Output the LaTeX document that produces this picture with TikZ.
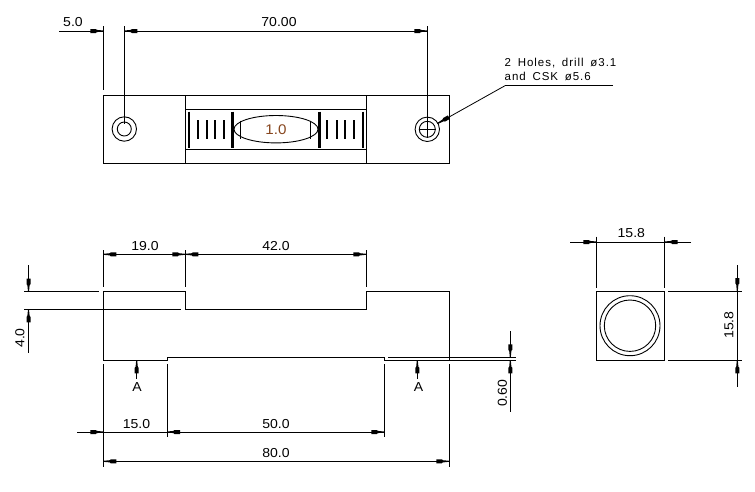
\documentclass[tikz,border=0pt]{standalone}
\usepackage{fontspec}
\setmainfont[FakeStretch=1.08]{Liberation Sans}
\newfontfamily\widefont[LetterSpace=8.5,WordSpace=1.6]{Liberation Sans}
\pgfarrowsdeclare{cadtip}{cadtip}{\pgfarrowsleftextend{-13pt}\pgfarrowsrightextend{0pt}}{%
  \pgfpathmoveto{\pgfpoint{0pt}{-0.5pt}}
  \pgfpathlineto{\pgfpoint{-6.5pt}{-1.1pt}}
  \pgfpathlineto{\pgfpoint{-7.5pt}{-2pt}}
  \pgfpathlineto{\pgfpoint{-13pt}{-2pt}}
  \pgfpathlineto{\pgfpoint{-13pt}{2pt}}
  \pgfpathlineto{\pgfpoint{-7.5pt}{2pt}}
  \pgfpathlineto{\pgfpoint{-6.5pt}{1.1pt}}
  \pgfpathlineto{\pgfpoint{0pt}{0.5pt}}
  \pgfpathclose\pgfusepathqfill}
\tikzset{
  part/.style={line width=1pt,line cap=rect,line join=miter},
  thin part/.style={line width=0.9pt},
  dimline/.style={line width=1pt},
  dimtext/.style={font=\fontsize{13}{15}\selectfont,inner sep=0pt},
  tickmark/.style={line width=2.2pt},
  bigmark/.style={line width=3pt},
}
\definecolor{bubbletext}{RGB}{135,70,30}
\begin{document}
\begin{tikzpicture}[x=1pt,y=-1pt]
\useasboundingbox (0,0) rectangle (755,491);
\fill[white] (0,0) rectangle (755,491);

% ---- top view ----
\draw[part] (103.3,95.3) rectangle (449.3,163.3);
\draw[part] (185.5,95.3) -- (185.5,163.3);
\draw[part] (366.3,95.3) -- (366.3,163.3);
\draw[part] (185.5,109.3) -- (366.3,109.3);
\draw[part] (185.5,149.3) -- (366.3,149.3);
\draw[thin part] (124.3,129) circle (12.2);
\draw[thin part] (124.3,129) circle (7);
\draw[thin part] (427.3,129.3) circle (12.2);
\draw[thin part] (427.3,129.3) circle (8);
\draw[thin part] (418.7,129.3) -- (436,129.3);
% vial scale
\foreach \x in {189,363} \draw[tickmark] (\x,111.7) -- (\x,147.7);
\foreach \x in {232.3,319.3} \draw[bigmark] (\x,111.7) -- (\x,147.7);
\foreach \x in {198.3,206.7,215.3,224,327.3,336.7,345.3,354} \draw[tickmark] (\x,120) -- (\x,139.3);
\draw[thin part] (276,129.2) ellipse (42 and 13.7);
\foreach \x in {240.3,310.7} \draw[line width=1.4pt] (\x,120.7) -- (\x,138.7);
\node[font=\fontsize{14}{16}\selectfont,text=bubbletext,inner sep=0pt] (bubble) at (276,130) {1.0};

% top dimensions
\draw[dimline] (103.3,26) -- (103.3,90);
\draw[dimline] (124.3,26) -- (124.3,124);
\draw[dimline] (427.3,26) -- (427.3,138);
\draw[dimline,-cadtip] (59,31) -- (103.3,31);
\draw[dimline,cadtip-cadtip] (124.3,31) -- (427.3,31);
\node[dimtext] (d5) at (73,22.5) {5.0};
\node[dimtext] (d70) at (279,22.5) {70.00};

% leader
\draw[dimline] (613,85.7) -- (505,85.7);
\draw[line width=0.8pt,-cadtip] (505,85.7) -- (437.5,123.5);
\node[anchor=west,inner sep=0pt,font=\widefont\fontsize{11.5}{13}\selectfont] (holes1) at (504.5,62.7) {2 Holes, drill ø3.1};
\node[anchor=west,inner sep=0pt,font=\widefont\fontsize{11.5}{13}\selectfont] (holes2) at (504.5,76.7) {and CSK ø5.6};

% ---- side view ----
\draw[part] (103.3,291.7) -- (185.3,291.7) -- (185.3,309.3) -- (366.3,309.3) -- (366.3,291.7) -- (449.3,291.7) -- (449.3,360.3) -- (384.3,360.3) -- (384.3,357.3) -- (167,357.3) -- (167,360.3) -- (103.3,360.3) -- cycle;

% side extension lines
\draw[dimline] (24,291.7) -- (99,291.7);
\draw[dimline] (24,309.3) -- (181,309.3);
\draw[dimline] (388,357.3) -- (516,357.3);
\draw[dimline] (449.3,360.3) -- (516,360.3);
\draw[dimline] (103.3,250) -- (103.3,287.3);
\draw[dimline] (185.3,250) -- (185.3,287.3);
\draw[dimline] (366.3,250) -- (366.3,287.3);
\draw[dimline] (103.3,364) -- (103.3,466.7);
\draw[dimline] (449.3,364) -- (449.3,466.7);
\draw[dimline] (167,364) -- (167,436.7);
\draw[dimline] (384.3,364) -- (384.3,436.7);

% side dimensions
\draw[dimline,cadtip-cadtip] (103.3,254.3) -- (185.3,254.3);
\draw[dimline,cadtip-cadtip] (185.3,254.3) -- (366.3,254.3);
\node[dimtext] (d19) at (145,246.5) {19.0};
\node[dimtext] (d42) at (276,246.5) {42.0};
\draw[dimline,-cadtip] (77,432) -- (103.3,432);
\draw[dimline] (103.3,432) -- (167,432);
\draw[dimline,cadtip-cadtip] (167,432) -- (384.3,432);
\node[dimtext] (d15) at (136.5,424) {15.0};
\node[dimtext] (d50) at (276,424) {50.0};
\draw[dimline,cadtip-cadtip] (103.3,461.3) -- (449.3,461.3);
\node[dimtext] (d80) at (276,453.5) {80.0};
\draw[dimline,-cadtip] (28.5,265) -- (28.5,291.7);
\draw[dimline,-cadtip] (28.5,352.7) -- (28.5,309.3);
\node[dimtext,rotate=90] (d4) at (20,338) {4.0};
\draw[dimline,-cadtip] (510.3,331) -- (510.3,357.3);
\draw[dimline,-cadtip] (510.3,411.7) -- (510.3,360.3);
\node[dimtext,rotate=90] (d06) at (502.3,393.3) {0.60};
\draw[dimline,-cadtip] (136.7,378.7) -- (136.7,360.3);
\draw[dimline,-cadtip] (417.3,378.7) -- (417.3,360.3);
\node[dimtext] (a1) at (137,387.5) {A};
\node[dimtext] (a2) at (418.5,387.5) {A};

% ---- end view ----
\draw[part] (596.3,291) rectangle (664.7,360.3);
\draw[thin part] (630,325.7) circle (30);
\draw[thin part] (630,325.7) circle (25.7);
\draw[dimline] (596.3,236.7) -- (596.3,287.7);
\draw[dimline] (664.7,236.7) -- (664.7,287.7);
\draw[dimline,-cadtip] (570,242) -- (596.3,242);
\draw[dimline] (596.3,242) -- (664.7,242);
\draw[dimline,-cadtip] (691,242) -- (664.7,242);
\node[dimtext] (d158a) at (631.3,233.3) {15.8};
\draw[dimline] (668.3,291) -- (741.7,291);
\draw[dimline] (668.3,360.3) -- (741.7,360.3);
\draw[dimline,-cadtip] (737.3,265) -- (737.3,291);
\draw[dimline] (737.3,291) -- (737.3,360.3);
\draw[dimline,-cadtip] (737.3,386.7) -- (737.3,360.3);
\node[dimtext,rotate=90] (d158b) at (729,325) {15.8};
\end{tikzpicture}
\end{document}
